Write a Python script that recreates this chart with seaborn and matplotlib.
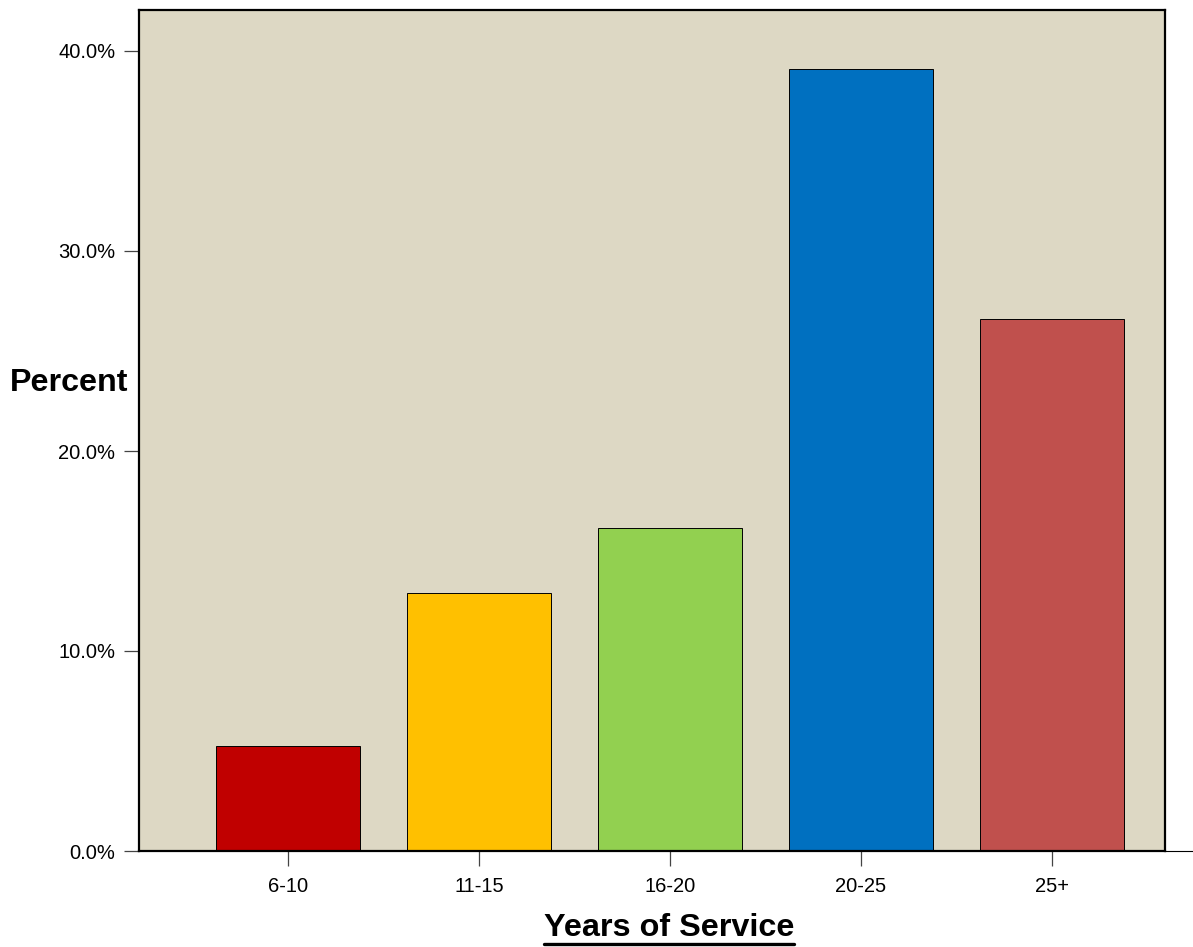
import matplotlib
matplotlib.use("Agg")
import matplotlib.pyplot as plt
import seaborn as sns
import pandas as pd
from matplotlib.ticker import FuncFormatter
from matplotlib.lines import Line2D

categories = ["6-10", "11-15", "16-20", "20-25", "25+"]
percents = [5.25, 12.9, 16.15, 39.1, 26.6]
bar_colors = ["#C00000", "#FFC000", "#92D050", "#0070C0", "#C0504D"]
y_ticks = [0, 10, 20, 30, 40]

sns.set_theme(style="white")
plt.rcParams["font.family"] = ["Liberation Sans", "DejaVu Sans"]
plt.rcParams["text.color"] = "black"

df = pd.DataFrame({"cat": categories, "pct": percents})

W, H = 1193, 947
fig = plt.figure(figsize=(W / 100, H / 100), dpi=100)
ax = fig.add_axes([139 / W, (H - 851) / H, (1165 - 139) / W, (851 - 10) / H])
ax.set_facecolor("#DDD8C4")

sns.barplot(data=df, x="cat", y="pct", hue="cat", palette=bar_colors,
            order=categories, hue_order=categories, legend=False,
            width=0.75, edgecolor="black", linewidth=0.7, saturation=1, ax=ax)

ax.set_xlim(-0.78, 4.592)
ax.set_ylim(0, 42.05)
ax.set_yticks(y_ticks)
ax.yaxis.set_major_formatter(FuncFormatter(lambda v, p: f"{v:.1f}%"))
ax.set_xlabel("")
ax.set_ylabel("")

for s in ax.spines.values():
    s.set_visible(True)
    s.set_color("black")
    s.set_linewidth(1.6)

ax.tick_params(axis="both", which="major", length=11, width=0.9, color="#444444",
               labelsize=14.5, labelcolor="black", direction="out", pad=6)
ax.tick_params(axis="y", left=True)
ax.tick_params(axis="x", bottom=True, pad=8)

# bottom axis continues past the frame
fig.add_artist(Line2D([1165 / W, 1.0], [(H - 851) / H] * 2, color="black", lw=0.8))

fig.text(10 / W, (H - 383) / H, "Percent", fontsize=23.2, fontweight="bold",
         ha="left", va="center", color="black")
xl = fig.text(669 / W, (H - 928) / H, "Years of Service", fontsize=23.3,
              fontweight="bold", ha="center", va="center", color="black")

fig.canvas.draw()
bb = xl.get_window_extent(renderer=fig.canvas.get_renderer())
uy = (bb.y0 - 1) / H
fig.add_artist(Line2D([bb.x0 / W, bb.x1 / W], [uy, uy], color="black", lw=2.4))

fig.savefig("out.png", dpi=100)
